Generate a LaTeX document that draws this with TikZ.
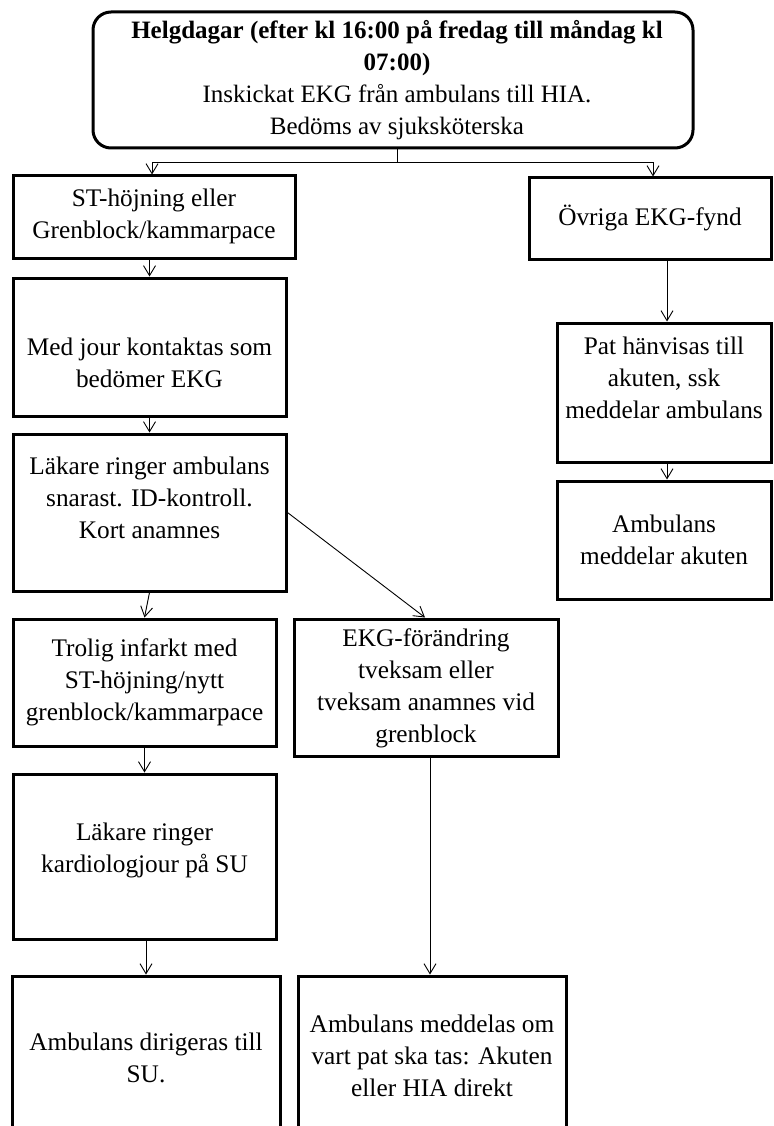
\documentclass[tikz,border=0pt]{standalone}
\usepackage{fontspec}
\setmainfont{Liberation Serif}
\usetikzlibrary{arrows.meta,calc}
\begin{document}
\begin{tikzpicture}[x=1pt,y=-1pt,
  box/.style={draw, line width=3pt, inner sep=0pt, fill=white},
  txt/.style={align=center, font=\fontsize{25.3}{32}\selectfont, inner sep=0pt},
  conn/.style={line width=0.9pt, -{Straight Barb[length=10pt,width=12pt,line width=0.9pt]}}]
\useasboundingbox (0,0) rectangle (773,1126);
\clip (0,0) rectangle (773,1126);

% boxes (centre, size in px)
\node[box, rounded corners=18pt, minimum width=600pt, minimum height=136pt] (top) at (393,80) {};
\node[box, minimum width=282pt, minimum height=82pt]  (b1) at (154,217) {};
\node[box, minimum width=273pt, minimum height=138pt] (b2) at (149.5,347) {};
\node[box, minimum width=273pt, minimum height=157pt] (b3) at (149.5,512.5) {};
\node[box, minimum width=263pt, minimum height=127pt] (b4) at (144.5,682.5) {};
\node[box, minimum width=264pt, minimum height=137pt] (b5) at (426,687.5) {};
\node[box, minimum width=263pt, minimum height=165pt] (b6) at (144.5,856.5) {};
\node[box, minimum width=268pt, minimum height=164pt] (b7) at (146,1058) {};
\node[box, minimum width=268pt, minimum height=164pt] (b8) at (432,1058) {};
\node[box, minimum width=242pt, minimum height=81pt]  (r1) at (650,218.5) {};
\node[box, minimum width=214pt, minimum height=139pt] (r2) at (664,392.5) {};
\node[box, minimum width=214pt, minimum height=118pt] (r3) at (664,540) {};

% texts
\node[txt, font=\fontsize{25}{32}\selectfont] (ttop) at (397,80) {\textbf{Helgdagar (efter kl 16:00 på fredag till måndag kl}\\\textbf{07:00)}\\Inskickat EKG från ambulans till HIA.\\Bedöms av sjuksköterska};
\node[txt] (t1) at (154,216) {ST-höjning eller\\Grenblock/kammarpace};
\node[txt] (t2) at (149.5,363) {Med jour kontaktas som\\bedömer EKG};
\node[txt] (t3) at (149.5,498) {Läkare ringer ambulans\\snarast. ID-kontroll.\\Kort anamnes};
\node[txt] (t4) at (144.5,682) {Trolig infarkt med\\ST-höjning/nytt\\grenblock/kammarpace};
\node[txt] (t5) at (426,688) {EKG-förändring\\tveksam eller\\tveksam anamnes vid\\grenblock};
\node[txt] (t6) at (144.5,850) {Läkare ringer\\kardiologjour på SU};
\node[txt] (t7) at (146,1058) {Ambulans dirigeras till\\SU.};
\node[txt] (t8) at (432,1056) {Ambulans meddelas om\\vart pat ska tas: Akuten\\eller HIA direkt};
\node[txt] (tr1) at (650,218) {Övriga EKG-fynd};
\node[txt] (tr2) at (664,378) {Pat hänvisas till\\akuten, ssk\\meddelar ambulans};
\node[txt] (tr3) at (664,540) {Ambulans\\meddelar akuten};

% connectors
\coordinate (split) at ($(top.south)+(4,13)$);
\coordinate (rcol) at ($(r2.north)+(3,0)$);
\coordinate (mcol) at ($(b5.south)+(4,0)$);
\draw[line width=0.9pt] ($(top.south)+(4,0)$) -- (split);
\draw[conn] (split) -| ($(b1.north)+(-2,0)$);
\draw[conn] (split) -| ($(r1.north)+(3,0)$);
\draw[conn] (b2.north |- b1.south) -- (b2.north);
\draw[conn] (b2.south) -- (b3.north);
\draw[conn] (b3.south) -- (b4.north);
\draw[conn] (b3.east) -- ($(b5.north)+(-1,0)$);
\draw[conn] (b4.south) -- (b6.north);
\draw[conn] (b7.north |- b6.south) -- (b7.north);
\draw[conn] (mcol) -- (mcol |- b8.north);
\draw[conn] (rcol |- r1.south) -- (rcol);
\draw[conn] (rcol |- r2.south) -- (rcol |- r3.north);
\end{tikzpicture}
\end{document}
